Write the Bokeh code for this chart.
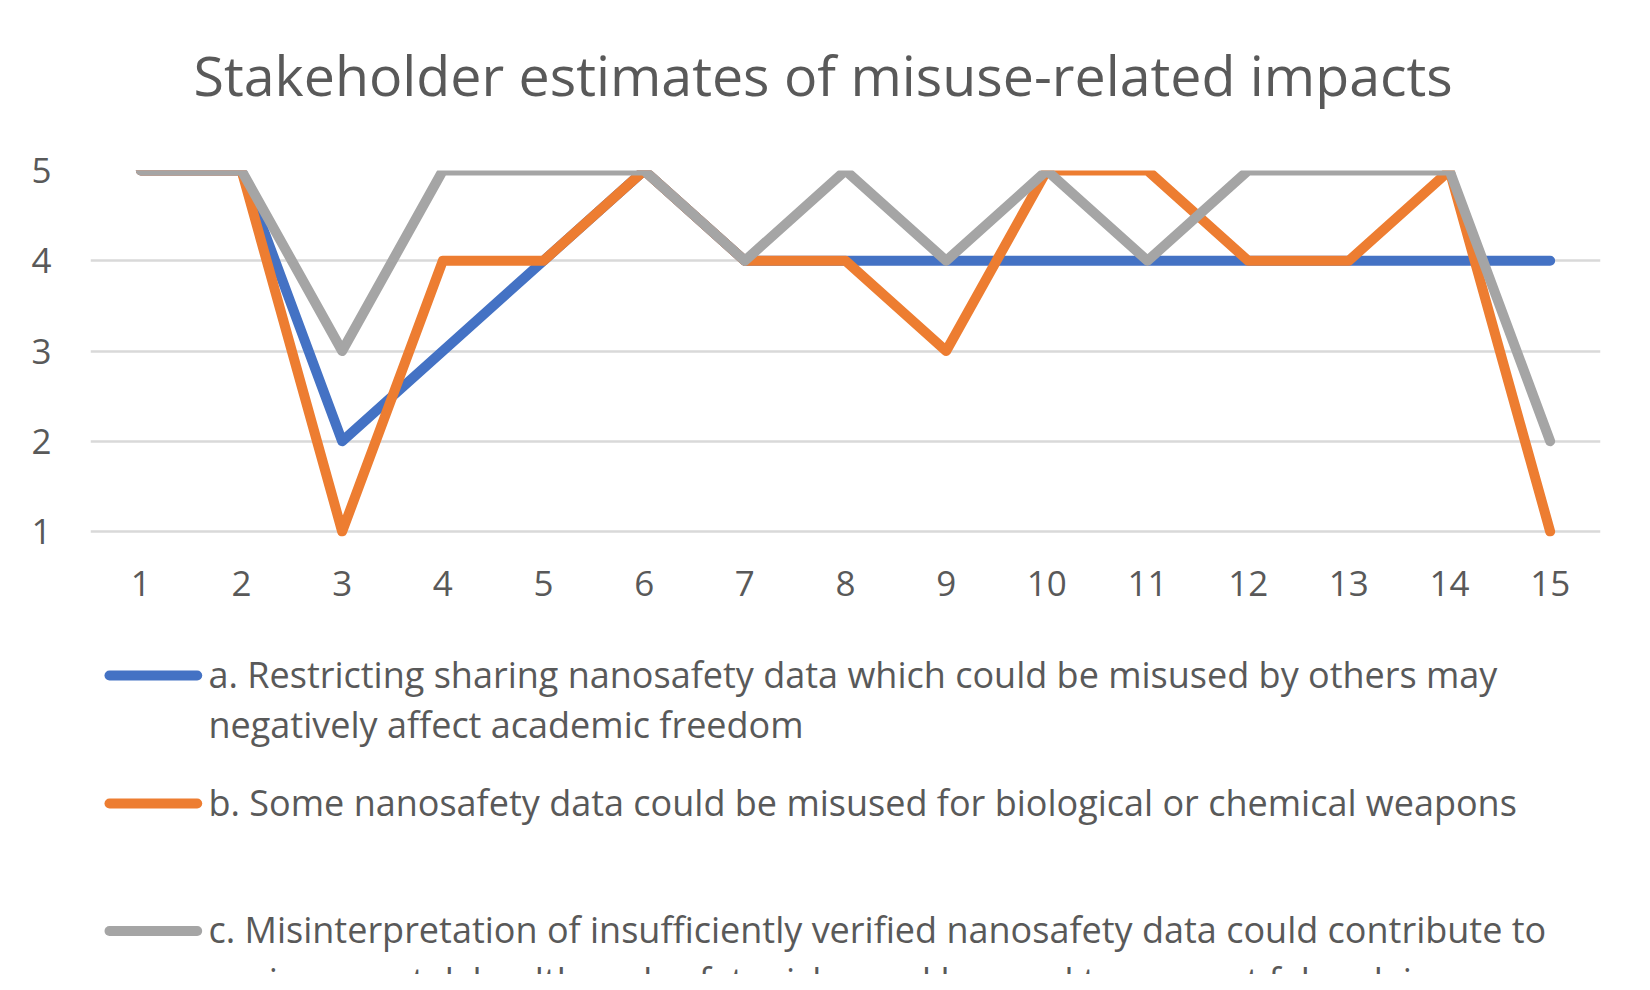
from bokeh.plotting import figure
from bokeh.models import Range1d, FixedTicker, ColumnDataSource
from bokeh.layouts import column
from bokeh.core.properties import value
from bokeh.embed import file_html
from bokeh.resources import INLINE

# ---- data ----
categories = list(range(1, 16))
series_a = [5, 5, 2, 3, 4, 5, 4, 4, 4, 4, 4, 4, 4, 4, 4]
series_b = [5, 5, 1, 4, 4, 5, 4, 4, 3, 5, 5, 4, 4, 5, 1]
series_c = [5, 5, 3, 5, 5, 5, 4, 5, 4, 5, 4, 5, 5, 5, 2]
y_ticks = [1, 2, 3, 4, 5]
title_text = "Stakeholder estimates of misuse-related impacts"
legend_lines_a = ["a. Restricting sharing nanosafety data which could be misused by others may",
                  "negatively affect academic freedom"]
legend_lines_b = ["b. Some nanosafety data could be misused for biological or chemical weapons"]
legend_lines_c = ["c. Misinterpretation of insufficiently verified nanosafety data could contribute to",
                  "environmental, health and safety risks, and be used to support false claims"]

colors = ["#4472C4", "#ED7D31", "#A5A5A5"]
text_color = "#595959"
FONT = "Open Sans"

W = 1634
HT = 125          # header (title) height
H1 = 495          # plot height
H2 = 354          # legend height
LEFT, RIGHT, TOP = 90, 34, 45
FRAME_H = 366


def blank_fig(h):
    f = figure(width=W, height=h, output_backend="svg", toolbar_location=None,
               x_range=Range1d(LEFT, W - RIGHT), y_range=Range1d(h, 0),
               x_axis_location=None, y_axis_location=None,
               min_border_left=LEFT, min_border_right=RIGHT,
               min_border_top=0, min_border_bottom=0)
    f.outline_line_color = None
    f.grid.visible = False
    return f


# ---- title ----
hd = blank_fig(HT)
hd.text(x=[193], y=[74], text=[title_text], text_font=value(FONT), text_font_size="55.5px",
        text_color=text_color, text_baseline="middle", text_align="left")

# ---- plot ----
p = figure(width=W, height=H1, output_backend="svg", toolbar_location=None,
           x_range=Range1d(0.5, 15.5), y_range=Range1d(0.945, 5.0),
           min_border_left=LEFT, min_border_right=RIGHT, min_border_top=TOP,
           min_border_bottom=H1 - TOP - FRAME_H)
p.outline_line_color = None
p.background_fill_color = "white"
p.border_fill_color = "white"

for ax in (p.xaxis, p.yaxis):
    ax.axis_line_color = None
    ax.major_tick_line_color = None
    ax.minor_tick_line_color = None
    ax.major_label_text_color = text_color
    ax.major_label_text_font = FONT
    ax.major_label_text_font_size = "35px"
p.xaxis.ticker = FixedTicker(ticks=categories)
p.yaxis.ticker = FixedTicker(ticks=y_ticks)
p.xaxis.major_label_standoff = 28
p.yaxis.major_label_standoff = 33

p.xgrid.visible = False
p.ygrid.grid_line_color = "#D9D9D9"
p.ygrid.grid_line_width = 2.5

src = ColumnDataSource(dict(x=categories, a=series_a, b=series_b, c=series_c))
for key, col in zip(["a", "b", "c"], colors):
    p.line("x", key, source=src, line_color=col, line_width=10,
           line_cap="round", line_join="round")

# ---- legend ----
lg = blank_fig(H2)
entries = [legend_lines_a, legend_lines_b, legend_lines_c]
swatch_y = [55, 183, 310.5]
line_gap = 50.8
sx, sy, ex, ey, cols = [], [], [], [], []
tx, ty, tt = [], [], []
for lines, yy, col in zip(entries, swatch_y, colors):
    sx.append(109); ex.append(196.7)
    sy.append(yy); ey.append(yy)
    cols.append(col)
    for i, line in enumerate(lines):
        tx.append(208); ty.append(yy - 1.5 + i * line_gap); tt.append(line)

lg.segment(x0=sx, y0=sy, x1=ex, y1=ey, line_color=cols, line_width=10, line_cap="round")
lg.text(x=tx, y=ty, text=tt, text_font=value(FONT), text_font_size="36px",
        text_color=text_color, text_baseline="alphabetic", text_align="left")

layout = column(hd, p, lg, spacing=0)
open("out.html", "w").write(file_html(layout, INLINE))
